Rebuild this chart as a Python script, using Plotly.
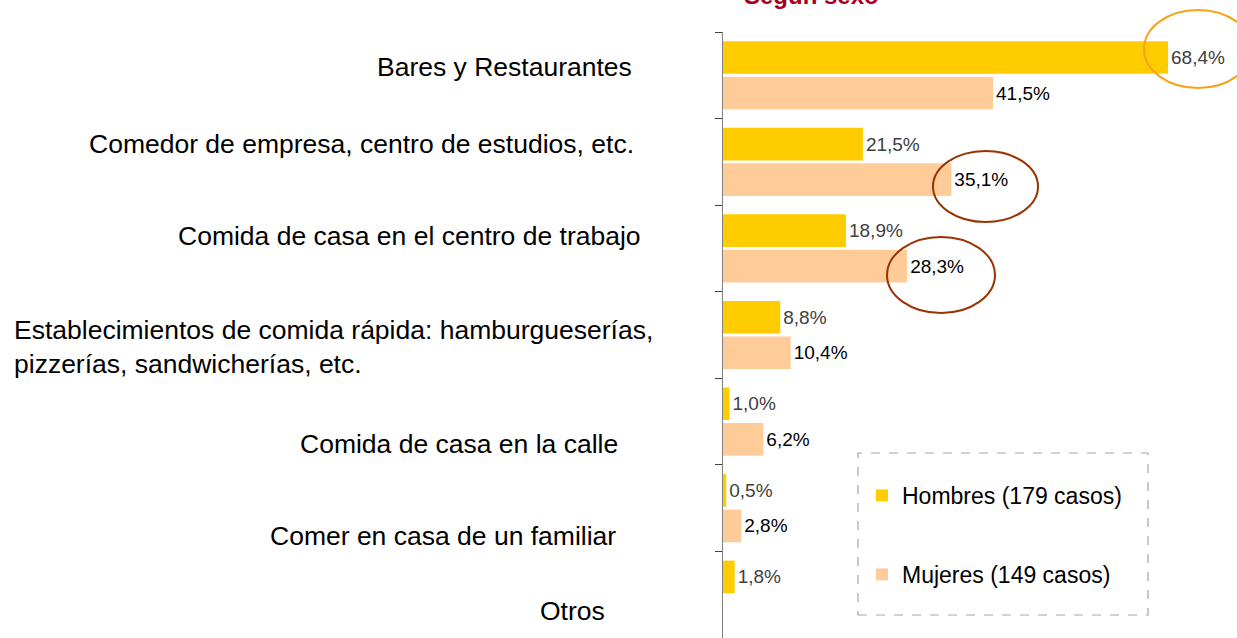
import plotly.graph_objects as go

# ---------------- data ----------------
categories = [
    "Bares y Restaurantes",
    "Comedor de empresa, centro de estudios, etc.",
    "Comida de casa en el centro de trabajo",
    "Establecimientos de comida rápida: hamburgueserías,<br>pizzerías, sandwicherías, etc.",
    "Comida de casa en la calle",
    "Comer en casa de un familiar",
    "Otros",
]
hombres = [68.4, 21.5, 18.9, 8.8, 1.0, 0.5, 1.8]
mujeres = [41.5, 35.1, 28.3, 10.4, 6.2, 2.8, None]
series_names = ["Hombres (179 casos)", "Mujeres (149 casos)"]
title_text = "Según sexo"

# ---------------- layout helpers ----------------
W, H = 1237, 638
ML, MT = 723, 32
PW, PH = W - ML, H - MT
XMAX = 79.0


def px_x(p):  # page pixel -> paper x
    return (p - ML) / PW


def px_y(p):  # page pixel -> paper y
    return (H - p) / PH


FONT = "Arial, 'Liberation Sans', sans-serif"

fig = go.Figure()
fig.add_trace(go.Bar(
    y=categories, x=hombres, orientation="h", name=series_names[0],
    marker=dict(color="#FFCC00", line=dict(width=0)),
    texttemplate="%{x:.1f}%", textposition="outside", cliponaxis=False,
    constraintext="none",
    textfont=dict(size=19, color="#404040", family=FONT),
    legendgroup="h",
))
fig.add_trace(go.Bar(
    y=categories, x=mujeres, orientation="h", name=series_names[1],
    marker=dict(color="#FFCC99", line=dict(width=0)),
    texttemplate="%{x:.1f}%", textposition="outside", cliponaxis=False,
    constraintext="none",
    textfont=dict(size=19, color="#000000", family=FONT),
    legendgroup="m",
))

# category labels (placed like the original text boxes)
label_dx = [-89, -87, -80, -68, -103, -105, -116]
label_dy = [8, 18, 12, -12, -22, -28, -16]
annotations = []
for i, c in enumerate(categories):
    annotations.append(dict(
        text=c, xref="paper", x=0, xanchor="right", xshift=label_dx[i],
        yref="y", y=c, yanchor="middle", yshift=label_dy[i],
        showarrow=False, align="left",
        font=dict(size=26.5, color="#000000", family=FONT),
    ))
annotations.append(dict(
    text=f"<b>{title_text}</b>", xref="paper", x=px_x(811), xanchor="center",
    yref="paper", y=1, yanchor="middle", yshift=37, showarrow=False,
    font=dict(size=24, color="#A50021", family=FONT),
))

shapes = [
    # dashed legend frame
    dict(type="rect", xref="paper", yref="paper",
         x0=px_x(858), x1=px_x(1148), y0=px_y(615), y1=px_y(453),
         line=dict(color="#A6A6A6", width=1.2, dash="dash")),
    # highlight ellipses
    dict(type="circle", xref="paper", yref="paper",
         x0=px_x(1144), x1=px_x(1252), y0=px_y(88), y1=px_y(10),
         line=dict(color="#F7A21B", width=2)),
    dict(type="circle", xref="paper", yref="paper",
         x0=px_x(933), x1=px_x(1038), y0=px_y(222), y1=px_y(151),
         line=dict(color="#993300", width=2)),
    dict(type="circle", xref="paper", yref="paper",
         x0=px_x(887), x1=px_x(995), y0=px_y(313), y1=px_y(237),
         line=dict(color="#993300", width=2)),
]

fig.update_layout(
    width=W, height=H,
    margin=dict(l=ML, r=0, t=MT, b=0, pad=0),
    paper_bgcolor="white", plot_bgcolor="white",
    barmode="group", bargap=0.18, bargroupgap=0.08,
    separators=",.",
    font=dict(family=FONT, color="#000000"),
    showlegend=True,
    legend=dict(
        x=px_x(862), xanchor="left", y=px_y(474), yanchor="top",
        bgcolor="rgba(0,0,0,0)", borderwidth=0,
        font=dict(size=23, color="#000000", family=FONT),
        traceorder="grouped", tracegroupgap=46,
    ),
    xaxis=dict(range=[0, XMAX], visible=False, showgrid=False, zeroline=False),
    yaxis=dict(
        type="category", range=[6.5, -0.5], showticklabels=False,
        showline=True, linecolor="#808080", linewidth=1.2,
        ticks="outside", tickson="boundaries", ticklen=7,
        tickcolor="#404040", tickwidth=1, showgrid=False, zeroline=False,
    ),
    annotations=annotations,
    shapes=shapes,
)

fig.write_html(
    "out.html",
    config={"displayModeBar": False},
    post_script="document.body.style.margin='0';document.body.style.overflow='hidden';",
)
